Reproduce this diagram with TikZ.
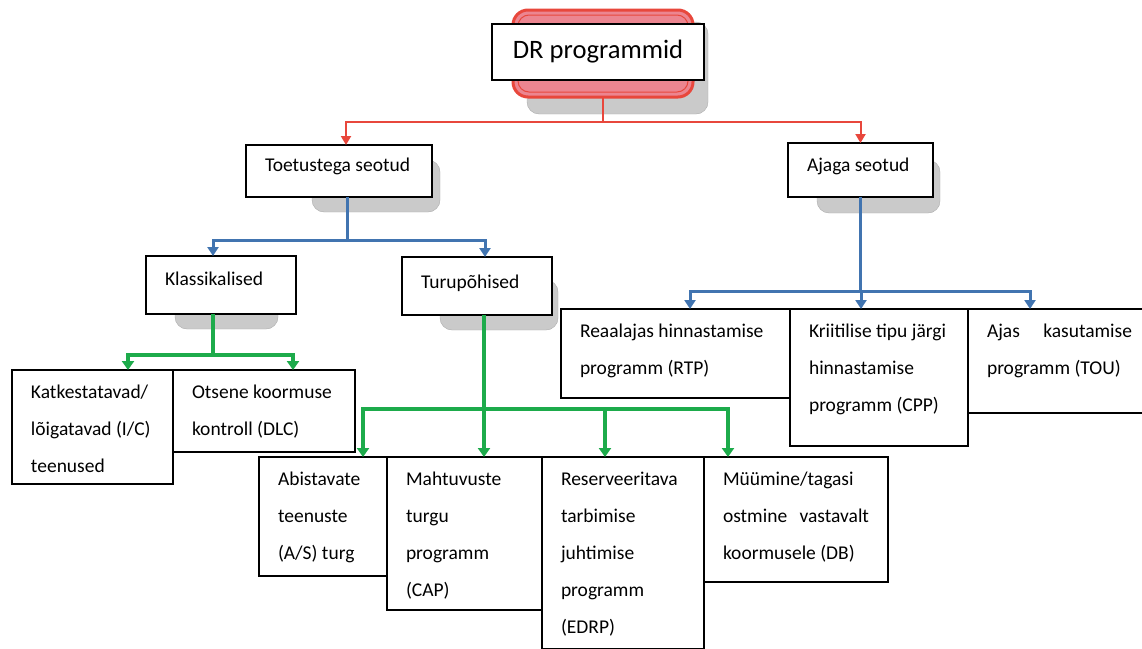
\documentclass[tikz,border=0pt]{standalone}
\usepackage{fontspec}
\setmainfont{Carlito}
\usetikzlibrary{arrows.meta,positioning}
\definecolor{drred}{HTML}{E8473C}
\definecolor{drpink}{HTML}{EC8590}
\definecolor{drblue}{HTML}{4174B0}
\definecolor{drgreen}{HTML}{1DAB4B}
\definecolor{shadowgray}{HTML}{CACACA}
% text set at the top left of a box: [strut]{width}{height}{lines}
\newcommand{\boxtext}[4][28]{\parbox[c][#3pt][t]{#2pt}{\raggedright\leftskip=19pt\rule{0pt}{#1pt}#4}}

\begin{document}
\begin{tikzpicture}[x=1pt,y=-1pt,
  leaf/.style={draw,line width=1.4pt,fill=white,inner sep=0pt,outer sep=0pt,anchor=north west,
    font=\fontsize{19.5}{37}\selectfont},
  shade/.style={fill=shadowgray,draw=shadowgray!85!black,line width=0.4pt,rounded corners=12pt},
  redline/.style={draw=drred,line width=2pt},
  redarr/.style={redline,-{Triangle[length=9pt,width=10pt]}},
  blueline/.style={draw=drblue,line width=3pt},
  bluearr/.style={blueline,-{Triangle[length=9pt,width=11pt]}},
  greenline/.style={draw=drgreen,line width=3.5pt},
  greenarr/.style={greenline,-{Triangle[length=9pt,width=12pt]}}]
\useasboundingbox (0,0) rectangle (1142,648);

% shadows behind the upper boxes
\fill[shade] (527,22) rectangle (708,114);
\fill[shade] (312,160) rectangle (440,212);
\fill[shade] (817,160) rectangle (940,213);
\fill[shade] (175,270) rectangle (278,329);
\fill[shade] (440,280) rectangle (558,330);

% title
\node[draw=drred,line width=3pt,fill=drpink,rounded corners=15pt,outer sep=0pt,
  minimum width=180,minimum height=87] (drback) at (603,53.5) {};
\draw[drred,line width=1pt,rounded corners=11pt] (518,15) rectangle (688,92);
\node[draw,line width=1.4pt,fill=white,minimum width=212,minimum height=56,
  font=\fontsize{26.6}{32}\selectfont] (dr) at (598,52) {DR programmid};

% second level
\node[leaf] (toet) at (246,145) {\boxtext[26]{186}{52}{Toetustega seotud}};
\node[leaf] (ajaga) at (788,143) {\boxtext{145}{54}{Ajaga seotud}};

% third level
\node[leaf] (klass) at (146,256) {\boxtext[29]{150}{58}{Klassikalised}};
\node[leaf] (turu) at (402,257) {\boxtext[31]{150}{58}{Turupõhised}};
\node[leaf] (reaal) at (561,309) {\boxtext{229}{89}{Reaalajas hinnastamise\\programm (RTP)}};
\node[leaf] (kriit) at (reaal.north east) {\boxtext{178}{137}{Kriitilise tipu järgi\\hinnastamise\\programm (CPP)}};
\node[leaf] (ajas) at (kriit.north east) {\boxtext{182}{104}{\makebox[145pt][s]{Ajas kasutamise}\\programm (TOU)}};

% leaves
\node[leaf] (kat) at (12,370) {\boxtext{161}{114}{Katkestatavad/\\lõigatavad (I/C)\\teenused}};
\node[leaf] (otsene) at (kat.north east) {\boxtext{182}{82}{Otsene koormuse\\kontroll (DLC)}};
\node[leaf] (abist) at (259,457) {\boxtext{128}{119}{Abistavate\\teenuste\\(A/S) turg}};
\node[leaf] (maht) at (abist.north east) {\boxtext{155}{153}{Mahtuvuste\\turgu\\programm\\(CAP)}};
\node[leaf] (reserv) at (maht.north east) {\boxtext{162}{192}{Reserveeritava\\tarbimise\\juhtimise\\programm\\(EDRP)}};
\node[leaf] (myy) at (reserv.north east) {\boxtext{184}{125}{Müümine/tagasi\\\makebox[146pt][s]{ostmine vastavalt}\\koormusele (DB)}};

% connectors
\draw[redline] (drback.south) -- ++(0,25) coordinate (rj);
\draw[redarr] (rj) -| ([xshift=7pt]toet.north);
\draw[redarr] (rj) -| (ajaga.north);

\draw[blueline] ([xshift=8pt]toet.south) -- ++(0,43) coordinate (bj);
\draw[bluearr] (bj) -| ([xshift=-8pt]klass.north);
\draw[bluearr] (bj) -| ([xshift=8pt]turu.north);

\draw[blueline] (ajaga.south) -- ++(0,94) coordinate (tj);
\draw[bluearr] (tj) -| ([xshift=14.5pt]reaal.north);
\draw[bluearr] (tj) -| ([xshift=-18pt]kriit.north);
\draw[bluearr] (tj) -| ([xshift=62pt]ajas.north west);

\draw[greenline] ([xshift=-8pt]klass.south) -- ++(0,41) coordinate (kj);
\draw[greenarr] (kj) -| ([xshift=35.5pt]kat.north);
\draw[greenarr] (kj) -| ([xshift=29pt]otsene.north);

\draw[greenline] ([xshift=7pt]turu.south) -- ++(0,94) coordinate (mj);
\draw[greenarr] (mj) -| ([xshift=40pt]abist.north);
\draw[greenarr] (mj) -| ([xshift=19.5pt]maht.north);
\draw[greenarr] (mj) -| ([xshift=-18pt]reserv.north);
\draw[greenarr] (mj) -| ([xshift=-68pt]myy.north);
\end{tikzpicture}
\end{document}
